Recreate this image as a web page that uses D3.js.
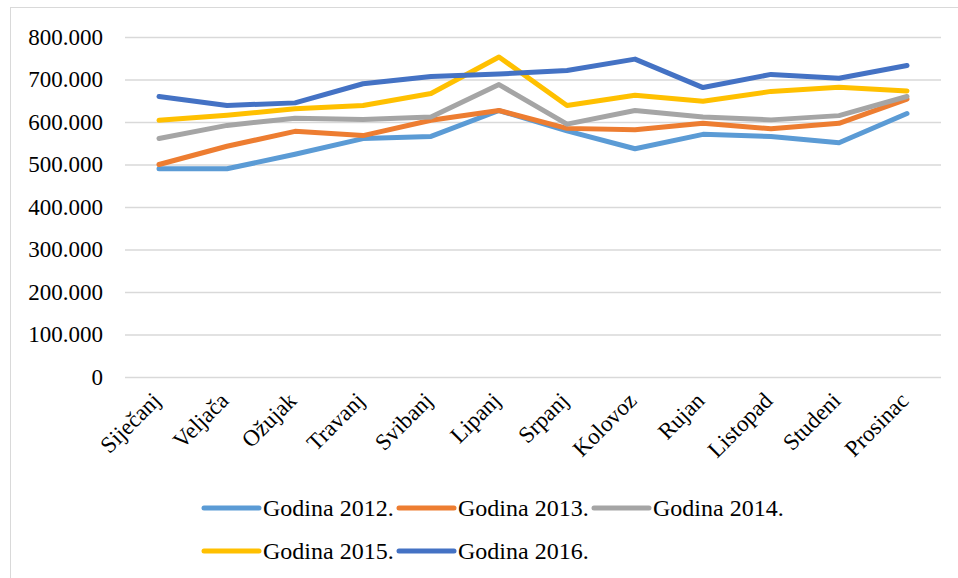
<!DOCTYPE html>
<html>
<head>
<meta charset="utf-8">
<script src="https://cdn.jsdelivr.net/npm/d3@7"></script>
<style>
  body { margin: 0; background: #fff; -webkit-font-smoothing: antialiased; }
  svg text { font-family: 'Liberation Serif', Tinos, 'Times New Roman', 'DejaVu Serif', serif; fill: #000; }
</style>
</head>
<body>
<div id="chart"></div>
<script>
// DATA

const months = ['Siječanj', 'Veljača', 'Ožujak', 'Travanj', 'Svibanj', 'Lipanj',
    'Srpanj', 'Kolovoz', 'Rujan', 'Listopad', 'Studeni', 'Prosinac'];

const years = ['Godina 2012.', 'Godina 2013.', 'Godina 2014.', 'Godina 2015.', 'Godina 2016.'];

const y2012 = [490000, 490000, 524000, 561000, 566000, 627000, 579000, 537000, 571000, 566000, 551000, 620000];
const y2013 = [500000, 543000, 578000, 568000, 604000, 627000, 585000, 582000, 597000, 584000, 597000, 654000];
const y2014 = [561000, 592000, 609000, 606000, 612000, 688000, 595000, 627000, 612000, 605000, 615000, 660000];
const y2015 = [604000, 616000, 631000, 639000, 667000, 753000, 639000, 663000, 649000, 672000, 682000, 673000];
const y2016 = [660000, 639000, 645000, 690000, 707000, 713000, 721000, 748000, 681000, 712000, 703000, 733000];

const yTicks = [0, 100000, 200000, 300000, 400000, 500000, 600000, 700000, 800000];

const colors = ['#5B9BD5', '#ED7D31', '#A5A5A5', '#FFC000', '#4472C4'];

// CHART

const width = 958;
const height = 578;
const margin = {top: 37, right: 17, bottom: 201, left: 125};

const series = [y2012, y2013, y2014, y2015, y2016].map((values, i) => ({
    name: years[i],
    color: colors[i],
    values: values
}));

const svg = d3.select('#chart')
    .append('svg')
        .attr('width', width)
        .attr('height', height);

// outer frame
svg.append('rect')
    .attr('x', 10.5)
    .attr('y', 7.5)
    .attr('width', 1000)
    .attr('height', 1000)
    .attr('fill', 'none')
    .attr('stroke', '#d9d9d9')
    .attr('stroke-width', 1);

const x = d3.scaleBand()
    .domain(months)
    .range([margin.left, width - margin.right]);

const y = d3.scaleLinear()
    .domain([0, 800000])
    .range([height - margin.bottom, margin.top]);

const fmt = d => d === 0 ? '0' : d3.format(',')(d).replace(/,/g, '.');

// grid + y labels
const yAxis = g => g
    .attr('transform', `translate(${margin.left},0)`)
    .call(d3.axisLeft(y)
        .tickValues(yTicks)
        .tickSize(-(width - margin.left - margin.right))
        .tickPadding(22)
        .tickFormat(fmt))
    .call(g => g.select('.domain').remove())
    .call(g => g.selectAll('.tick line')
        .attr('stroke', '#d9d9d9')
        .attr('stroke-width', 1.3))
    .call(g => g.selectAll('.tick text')
        .attr('fill', '#000')
        .attr('font-size', 23));

svg.append('g').call(yAxis);

// x labels
const xAxis = g => g
    .attr('transform', `translate(0,${height - margin.bottom})`)
    .call(d3.axisBottom(x).tickSize(0))
    .call(g => g.select('.domain').remove())
    .call(g => g.selectAll('.tick text')
        .attr('fill', '#000')
        .attr('font-size', 23)
        .attr('text-anchor', 'end')
        .attr('dy', null)
        .attr('y', 0)
        .attr('transform', 'translate(3,25) rotate(-45)'));

svg.append('g').call(xAxis);

// lines
const line = d3.line()
    .x((d, i) => x(months[i]) + x.bandwidth() / 2)
    .y(d => y(d));

svg.append('g')
    .selectAll('path')
    .data(series)
    .join('path')
        .attr('fill', 'none')
        .attr('stroke', d => d.color)
        .attr('stroke-width', 5)
        .attr('stroke-linejoin', 'round')
        .attr('stroke-linecap', 'round')
        .attr('d', d => line(d.values));

// legend
const legendPos = [[204, 508], [399, 508], [594, 508], [204, 551], [399, 551]];

const legend = svg.append('g')
    .selectAll('g')
    .data(series)
    .join('g')
        .attr('transform', (d, i) => `translate(${legendPos[i][0]},${legendPos[i][1]})`);

legend.append('line')
    .attr('x1', 0)
    .attr('x2', 55)
    .attr('stroke', d => d.color)
    .attr('stroke-width', 5)
    .attr('stroke-linecap', 'round');

legend.append('text')
    .attr('x', 59)
    .attr('dy', '0.35em')
    .attr('font-size', 24)
    .text(d => d.name);
</script>
</body>
</html>
